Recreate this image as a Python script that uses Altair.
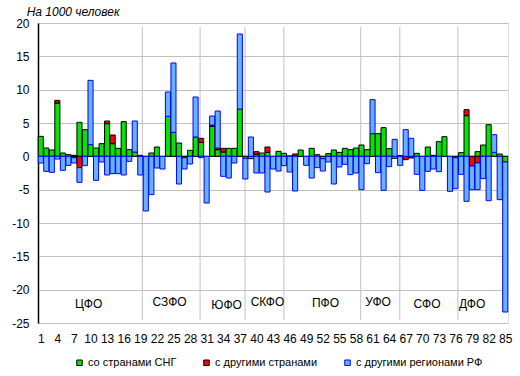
import altair as alt
import pandas as pd

# ---------------- data ----------------
regions = list(range(1, 86))

cis = [3.0, 1.25, 0.95, 8.0, 0.5, 0.25, -0.2, 5.1, 4.0, 1.75,
       1.25, 1.9, 4.9, 1.9, 1.2, 5.2, 1.0, 0.65, 0.15, 0.0,
       0.5, 1.4, 0.0, 6.0, 3.6, 2.0, -0.2, 0.9, 2.9, 2.1,
       0.0, 4.5, 1.0, 0.65, 1.2, 1.2, 7.1, -0.3, -0.35, 0.3,
       0.5, 0.6, 0.0, 0.75, 0.45, 0.05, 0.05, 0.95, 0.0, 1.2,
       0.25, -0.35, 0.4, 0.95, 0.6, 1.2, 1.0, 1.25, 1.7, 1.0,
       3.4, 3.4, 4.3, 1.15, -0.3, 0.1, 0.0, 0.0, 0.45, 0.0,
       1.4, 0.15, 2.2, 2.95, 0.0, -0.2, 0.55, 6.1, 0.0, 0.7,
       1.7, 4.75, 0.6, 0.35, -0.85]

other_countries = [0.0, 0.0, 0.0, 0.4, 0.0, 0.0, 0.15, -1.7, 0.0, 0.0,
                   0.0, 0.0, 0.4, 1.3, 0.0, 0.0, 0.0, 0.0, 0.0, 0.0,
                   0.0, 0.0, 0.0, 0.0, 0.0, 0.0, 0.0, 0.0, 0.0, 0.6,
                   0.0, 0.2, 0.25, 0.55, 0.0, 0.0, 0.0, 0.0, 0.0, 0.4,
                   0.0, 0.8, 0.0, 0.0, 0.0, 0.0, 0.3, 0.0, 0.0, 0.0,
                   0.0, 0.0, 0.0, 0.0, 0.0, 0.0, 0.0, 0.0, 0.0, 0.0,
                   0.0, 0.0, 0.0, 0.0, 0.0, 0.0, -0.5, -0.25, 0.0, 0.0,
                   0.0, 0.0, 0.0, 0.0, 0.0, 0.0, 0.0, 0.9, -1.45, -1.0,
                   0.0, 0.0, 0.0, 0.0, 0.0]

other_regions = [-1.0, -2.25, -2.4, -0.4, -2.1, -1.35, -0.8, -2.2, -1.4, 9.65,
                 -3.6, -0.85, -2.8, -2.6, -2.6, -2.8, -0.75, 4.65, -2.8, -8.2,
                 -5.75, -1.75, -1.9, 3.65, 10.4, -4.15, -1.7, -1.15, 6.0, -0.2,
                 -7.0, 1.35, 5.55, -3.0, -3.25, -1.0, 11.25, -3.1, 2.9, -2.5,
                 -2.5, -5.35, -1.9, -2.2, -1.4, -2.35, -5.2, 0.0, -1.35, -3.25,
                 -1.7, -1.85, -0.85, -4.15, -1.6, -1.2, -2.75, -2.5, -5.0, -1.1,
                 5.1, -2.45, -5.1, -1.55, 2.55, -1.35, 4.0, 2.7, -2.7, -5.1,
                 -2.25, -1.9, -2.3, 0.0, -5.25, -4.65, -2.7, -6.75, -3.55, -4.0,
                 -3.35, -6.65, 2.65, -6.5, -22.5]

series_names = ["со странами СНГ", "с другими странами", "с другими регионами РФ"]
fill_colors = ["#00E600", "#FF0000", "#66B2FF"]
stroke_colors = ["#000000", "#000000", "#0000FF"]

x_ticks = list(range(1, 86, 3))
y_ticks = list(range(-25, 21, 5))

districts = ["ЦФО", "СЗФО", "ЮФО", "СКФО", "ПФО", "УФО", "СФО", "ДФО"]
district_x = [9.66, 24.3, 34.6, 42.0, 52.5, 62.0, 70.85, 79.0]
district_y = [-22.15, -21.85, -22.3, -21.85, -22.0, -21.85, -22.15, -22.15]
separators = [19.37, 29.81, 37.95, 44.96, 58.86, 65.93, 76.44]
sep_top = 19.4
sep_bottom = -24.5

# ---------------- tables ----------------
rows = []
for i, r in enumerate(regions):
    for k, vals in enumerate([cis, other_countries, other_regions]):
        rows.append({"region": r, "series": series_names[k], "ord": k, "v": vals[i]})
df = pd.DataFrame(rows)
sep_df = pd.DataFrame({"sx": separators,
                       "sy0": [sep_top] * len(separators),
                       "sy1": [sep_bottom] * len(separators)})
lab_df = pd.DataFrame({"name": districts, "lx": district_x, "ly": district_y})
zero_df = pd.DataFrame({"z": [0.0]})

FONT = "Liberation Sans"
xscale = alt.Scale(domain=[0.5, 85.5], nice=False, zero=False)
yscale = alt.Scale(domain=[-25, 20], nice=False, zero=False)

xaxis = alt.Axis(values=x_ticks, title=None, grid=False, ticks=False, domain=False,
                 labelFontSize=12, labelFont=FONT, labelPadding=10,
                 labelColor="black", labelFlush=False)
yaxis = alt.Axis(values=y_ticks, title=None, grid=True, gridColor="#C0C0C0",
                 gridWidth=1, ticks=False, domain=True, domainColor="black",
                 domainWidth=1.5, labelFontSize=12, labelFont=FONT,
                 labelPadding=9, labelColor="black", labelExpr="toString(datum.value)")

legend = alt.Legend(
    title=None, orient="none", legendX=36, legendY=334, direction="horizontal",
    symbolType="square", symbolSize=30, symbolStrokeWidth=1,
    labelFontSize=11, labelFont=FONT, labelColor="black", labelOffset=3,
    columnPadding=24, padding=0,
)

bars = (
    alt.Chart(df)
    .transform_filter("datum.v != 0")
    .transform_stack(stack="v", groupby=["region"], as_=["v0", "v1"],
                     sort=[alt.SortField("ord", order="ascending")], offset="zero")
    .transform_calculate(xa="datum.region - 0.46", xb="datum.region + 0.46")
    .mark_bar(strokeWidth=1)
    .encode(
        x=alt.X("xa:Q", scale=xscale, axis=xaxis),
        x2="xb:Q",
        y=alt.Y("v0:Q", scale=yscale, axis=yaxis),
        y2="v1:Q",
        fill=alt.Fill("series:N", scale=alt.Scale(domain=series_names, range=fill_colors),
                      legend=legend),
        stroke=alt.Stroke("series:N", scale=alt.Scale(domain=series_names, range=stroke_colors),
                          legend=legend),
    )
)

seps = alt.Chart(sep_df).mark_rule(color="#C0C0C0", strokeWidth=1).encode(
    x=alt.X("sx:Q", scale=xscale, axis=xaxis),
    y=alt.Y("sy0:Q", scale=yscale, axis=yaxis),
    y2="sy1:Q",
)

zero = alt.Chart(zero_df).mark_rule(color="black", strokeWidth=1).encode(
    y=alt.Y("z:Q", scale=yscale, axis=yaxis)
)

labels = alt.Chart(lab_df).mark_text(font=FONT, fontSize=12, color="black").encode(
    x=alt.X("lx:Q", scale=xscale, axis=xaxis),
    y=alt.Y("ly:Q", scale=yscale, axis=yaxis),
    text="name:N",
)

chart = (
    alt.layer(seps, zero, bars, labels)
    .properties(
        width=470, height=300,
        padding={"left": 38, "top": 23, "right": 12, "bottom": 53},
        autosize=alt.AutoSizeParams(type="none"),
        title=alt.TitleParams("На 1000 человек", anchor="start", fontStyle="italic",
                              fontWeight="normal", fontSize=12, font=FONT, color="black",
                              dx=15, dy=3, offset=1),
    )
    .configure_view(stroke="black", strokeWidth=1)
    .configure(background="white")
)

chart.save("out.html", embed_options={"renderer": "svg", "actions": False})
